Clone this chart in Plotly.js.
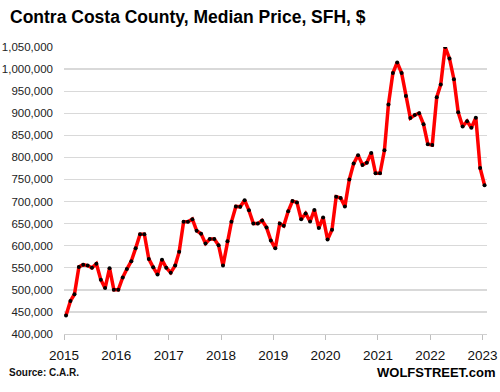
<!DOCTYPE html>
<html>
<head>
<meta charset="utf-8">
<script src="https://cdn.plot.ly/plotly-3.0.1.min.js"></script>
<style>
html, body { margin: 0; padding: 0; background: #fff; }
#chart { width: 500px; height: 392px; }
</style>
</head>
<body>
<div id="chart"></div>
<script>
// Monthly median price, Jan 2015 .. Jan 2023
const startYear = 2015;
const prices = [
  442000, 475000, 490000, 552000, 557000, 555000, 550000, 559000, 523000, 504000, 549000, 500000,
  500000, 528000, 547000, 565000, 594000, 626000, 626000, 570000, 551000, 535000, 568000, 550000,
  539000, 555000, 586000, 654000, 654000, 660000, 634000, 627000, 605000, 615000, 615000, 601000,
  555000, 610000, 654000, 689000, 688000, 703000, 680000, 650000, 650000, 657000, 641000, 612000,
  594000, 650000, 645000, 678000, 701000, 698000, 660000, 673000, 655000, 681000, 640000, 664000,
  614000, 636000, 711000, 708000, 689000, 750000, 786000, 805000, 783000, 788000, 810000, 764000,
  764000, 816000, 920000, 991000, 1015000, 991000, 939000, 889000, 896000, 900000, 875000, 830000,
  828000, 936000, 965000, 1050000, 1024000, 977000, 902000, 870000, 882000, 867000, 890000, 776000,
  737000
];
const yearTicks = ['2015','2016','2017','2018','2019','2020','2021','2022','2023'];
const yTickVals = [400000,450000,500000,550000,600000,650000,700000,750000,800000,850000,900000,950000,1000000,1050000];

const months = prices.map((_, i) => {
  const y = startYear + Math.floor(i / 12);
  const m = (i % 12) + 1;
  return y + '-' + String(m).padStart(2, '0') + '-15';
});

const trace = {
  x: months,
  y: prices,
  type: 'scatter',
  mode: 'lines+markers',
  line: { color: '#ff0000', width: 3.5 },
  marker: { color: '#000000', size: 4 },
  hoverinfo: 'x+y'
};

const layout = {
  width: 500,
  height: 392,
  margin: { l: 64.3, r: 13.3, t: 47, b: 58 },
  paper_bgcolor: '#ffffff',
  plot_bgcolor: '#ffffff',
  showlegend: false,
  font: { family: 'Liberation Sans, Arial, sans-serif', color: '#222' },
  title: {
    text: '<b>Contra Costa County, Median Price, SFH, $</b>',
    font: { family: 'Liberation Sans, Arial, sans-serif', size: 17.5, color: '#000' },
    x: 10 / 500, xref: 'container', xanchor: 'left',
    y: 1 - 17 / 392, yref: 'container', yanchor: 'middle'
  },
  xaxis: {
    type: 'date',
    range: ['2015-01-01', '2023-02-01'],
    tickmode: 'array',
    tickvals: yearTicks.map(y => y + '-01-01'),
    ticktext: yearTicks,
    ticks: 'outside',
    ticklen: 5,
    tickcolor: '#bfbfbf',
    showgrid: false,
    showline: true,
    linecolor: '#d0d0d0',
    linewidth: 1,
    tickfont: { size: 13.5, color: '#111' },
    ticklabelstandoff: 4,
    zeroline: false
  },
  yaxis: {
    range: [400000, 1050000],
    tickmode: 'array',
    tickvals: yTickVals,
    ticktext: yTickVals.map(v => v.toLocaleString('en-US')),
    showgrid: true,
    gridcolor: '#d9d9d9',
    gridwidth: 1.3,
    showline: false,
    zeroline: false,
    ticks: '',
    tickfont: { size: 11.5, color: '#222' },
    ticklabelstandoff: 10
  },
  annotations: [
    {
      text: '<b>Source: C.A.R.</b>',
      xref: 'paper', yref: 'paper',
      x: (7 - 64.3) / 422.4, y: (334 - 372) / 287,
      xanchor: 'left', yanchor: 'middle',
      showarrow: false,
      font: { size: 10, color: '#111' }
    },
    {
      text: '<b>WOLFSTREET.com</b>',
      xref: 'paper', yref: 'paper',
      x: (496.5 - 64.3) / 422.4, y: (334 - 372) / 287,
      xanchor: 'right', yanchor: 'middle',
      showarrow: false,
      font: { size: 13, color: '#000' }
    }
  ]
};

Plotly.newPlot('chart', [trace], layout, { staticPlot: true, displayModeBar: false });
</script>
</body>
</html>
